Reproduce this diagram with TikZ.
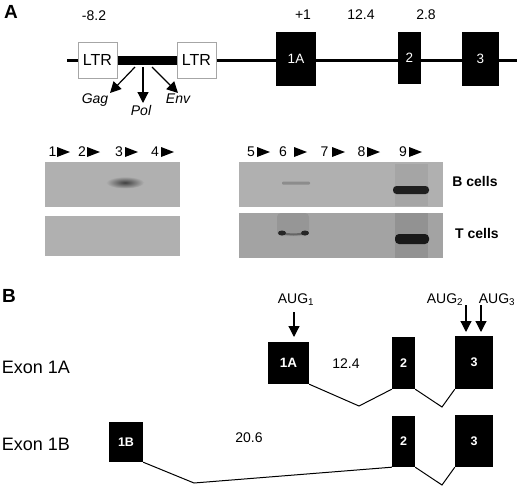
\documentclass[tikz,border=0pt]{standalone}
\usepackage{fontspec}
\setmainfont{Liberation Sans}
\usetikzlibrary{arrows.meta}
\newcommand{\myfs}[1]{\fontsize{#1}{#1}\selectfont}
\definecolor{gelc}{gray}{0.69}
\definecolor{gelcd}{gray}{0.64}
\begin{document}
\begin{tikzpicture}[x=1pt,y=-1pt,
  num/.style={font=\myfs{14}, inner sep=0pt},
  panel/.style={font=\bfseries\myfs{19}, inner sep=0pt},
  ltrbox/.style={draw=black!35, line width=1pt, fill=white, minimum width=39pt, minimum height=36pt, inner sep=0pt, font=\myfs{16}},
  exonA/.style={fill=black, text=white, inner sep=0pt, font=\myfs{13.5}},
  exonB/.style={fill=black, text=white, inner sep=0pt, font=\bfseries\myfs{12.5}},
  arr/.style={line width=1.2pt, -{Triangle[length=11pt,width=11pt]}},
  lane/.style={font=\myfs{14}, inner sep=0pt},
  cell/.style={font=\bfseries\myfs{14}, inner sep=0pt},
  gene/.style={font=\itshape\myfs{14}, inner sep=0pt},
  exlab/.style={font=\myfs{18}, inner sep=0pt},
  aug/.style={font=\myfs{14}, inner sep=0pt},
  intron/.style={line width=1pt}
]
\useasboundingbox (0,0) rectangle (520,488);
\fill[white] (0,0) rectangle (520,488);

% ---------- Panel A ----------
\node[panel] (labA) at (11,12) {A};
\node[num] (n82) at (94,16) {-8.2};
\node[num] (np1) at (303,15) {+1};
\node[num] (n124) at (361,15) {12.4};
\node[num] (n28) at (426,15) {2.8};

\coordinate (lstart) at (67,60);
\coordinate (lend) at (517,60);
\draw[line width=3pt] (lstart) -- (lend);

\node[ltrbox] (ltr1) at (97.5,60) {LTR};
\node[ltrbox] (ltr2) at (196.5,60) {LTR};
\draw[line width=9pt] (ltr1.east) -- (ltr2.west);

\node[exonA, minimum width=40pt, minimum height=54pt] (a1A) at (296,59) {1A};
\node[exonA, minimum width=23pt, minimum height=52pt] (a2) at (409.5,58) {2};
\node[exonA, minimum width=37pt, minimum height=54pt] (a3) at (480.5,59) {3};

\coordinate (gs) at (135,67);
\coordinate (gt) at (110,93);
\coordinate (ps) at (143,67);
\coordinate (pt) at (143,103);
\coordinate (es) at (152,67);
\coordinate (et) at (178,93);
\draw[arr] (gs) -- (gt);
\draw[arr] (ps) -- (pt);
\draw[arr] (es) -- (et);
\node[gene] (gag) at (95,100) {Gag};
\node[gene] (pol) at (141,110) {Pol};
\node[gene] (env) at (178,99) {Env};

% ---------- Gels ----------
\fill[gelc] (45,162) rectangle (180,207);
\fill[gelc] (45,216) rectangle (180,256);
\fill[gelc] (239,162) rectangle (443,207);
\fill[gelcd] (239,213) rectangle (443,258);

\foreach \d/\x/\t in {1/52.5/57,2/82/87,3/119/125,4/155/161,5/251/257,6/283/294,7/324.5/332,8/361.5/367,9/403/409}{
  \node[lane] (lane\d) at (\x,152) {\d};
  \fill (\t,147) -- (\t+13,152) -- (\t,157) -- cycle;
}

% bands
\shade[inner color=black!75, outer color=gelc] (125,182.5) ellipse [x radius=19, y radius=6];
\fill[black!45, rounded corners=1pt] (282,181.5) rectangle (310,184.5);
\fill[black, opacity=0.06] (395,164) rectangle (428,206);
\fill[black!88, rounded corners=3.5pt] (393,186) rectangle (429,194);
\fill[black, opacity=0.08, rounded corners=4pt] (277,213) rectangle (309,236);
\draw[black!60, line width=2pt] (282,233) .. controls (290,235) and (297,235) .. (305,233);
\fill[black!85] (282,233) ellipse [x radius=4, y radius=2.5];
\fill[black!85] (305,233) ellipse [x radius=4, y radius=2.5];
\fill[black, opacity=0.1] (395,213) rectangle (428,258);
\fill[black!90, rounded corners=4pt] (395,234) rectangle (429,244);

\node[cell] (bc) at (475,181) {B cells};
\node[cell] (tc) at (477,233) {T cells};

% ---------- Panel B ----------
\node[panel] (labB) at (9,296) {B};
\node[exlab] (ex1a) at (36,367) {Exon 1A};
\node[exlab] (ex1b) at (36,444) {Exon 1B};

\node[exonB, font=\bfseries\myfs{13.5}, minimum width=41pt, minimum height=42pt] (b1A) at (288.5,363) {1A};
\node[exonB, minimum width=23pt, minimum height=52pt] (b2A) at (403.5,363) {2};
\node[exonB, minimum width=38pt, minimum height=53pt] (b3A) at (474,362.5) {3};
\node[num] (n124b) at (346,364) {12.4};

\node[exonB, minimum width=34pt, minimum height=40pt] (b1B) at (126,442) {1B};
\node[exonB, minimum width=23pt, minimum height=51pt] (b2B) at (403.5,441.5) {2};
\node[exonB, minimum width=38pt, minimum height=52pt] (b3B) at (474,441) {3};
\node[num] (n206) at (249,438) {20.6};

\coordinate (v1) at (359,406);
\coordinate (v2) at (442,407);
\coordinate (v3) at (194,483);
\coordinate (v4) at (442,485);
\draw[intron] (b1A.south east) -- (v1) -- (b2A.south west);
\draw[intron] (b2A.south east) -- (v2) -- (b3A.south west);
\draw[intron] (b1B.south east) -- (v3) -- (b2B.south west);
\draw[intron] (b2B.south east) -- (v4) -- (b3B.south west);

\node[aug] (aug1) at (296,300) {AUG\textsubscript{1}};
\node[aug] (aug2) at (445,300) {AUG\textsubscript{2}};
\node[aug] (aug3) at (497,300) {AUG\textsubscript{3}};
\coordinate (a1s) at (294,312);
\coordinate (a1t) at (294,337);
\coordinate (a2s) at (466,305);
\coordinate (a2t) at (466,332);
\coordinate (a3s) at (481,305);
\coordinate (a3t) at (481,332);
\draw[arr] (a1s) -- (a1t);
\draw[arr] (a2s) -- (a2t);
\draw[arr] (a3s) -- (a3t);
\end{tikzpicture}
\end{document}
